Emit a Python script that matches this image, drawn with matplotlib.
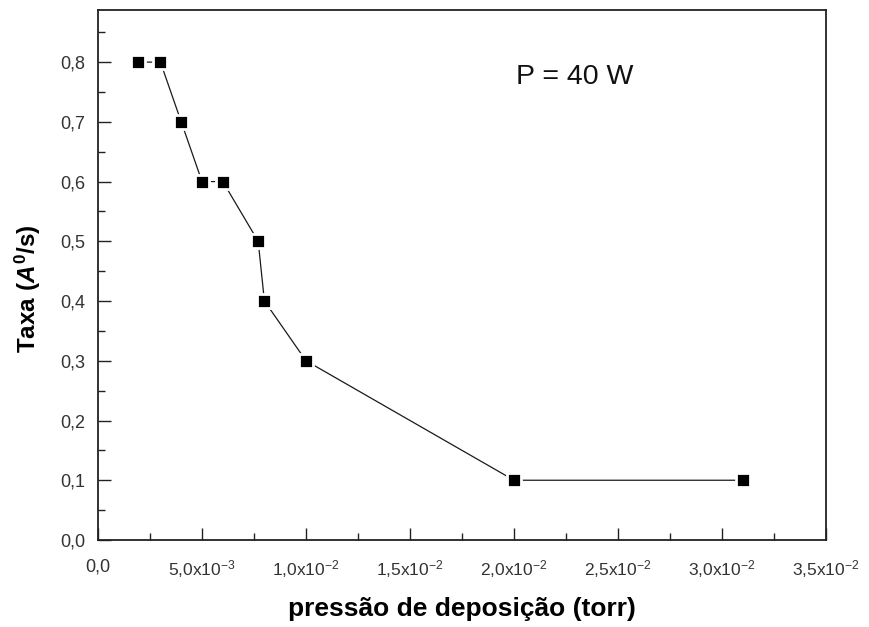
import matplotlib
matplotlib.use("Agg")
import matplotlib.pyplot as plt
from matplotlib.ticker import MultipleLocator

plt.rcParams["font.family"] = ["Liberation Sans", "DejaVu Sans"]
plt.rcParams["mathtext.fontset"] = "custom"
plt.rcParams["mathtext.rm"] = "Liberation Sans"
plt.rcParams["mathtext.it"] = "Liberation Sans:italic:bold"
plt.rcParams["mathtext.bf"] = "Liberation Sans:bold"

# deposition pressure (torr) and deposition rate (A/s) at P = 40 W
pressure = [0.0019, 0.0030, 0.0040, 0.0050, 0.0060, 0.0077, 0.0080, 0.0100, 0.0200, 0.0310]
rate = [0.8, 0.8, 0.7, 0.6, 0.6, 0.5, 0.4, 0.3, 0.1, 0.1]

x_ticks = [0.0, 0.005, 0.010, 0.015, 0.020, 0.025, 0.030, 0.035]
x_tick_labels = ["0,0", r"5,0x10$^{-3}$", r"1,0x10$^{-2}$", r"1,5x10$^{-2}$",
                 r"2,0x10$^{-2}$", r"2,5x10$^{-2}$", r"3,0x10$^{-2}$", r"3,5x10$^{-2}$"]
y_ticks = [0.0, 0.1, 0.2, 0.3, 0.4, 0.5, 0.6, 0.7, 0.8]
y_tick_labels = ["0,0", "0,1", "0,2", "0,3", "0,4", "0,5", "0,6", "0,7", "0,8"]

fig = plt.figure(figsize=(8.69, 6.27), dpi=100)
ax = fig.add_axes([0.1128, 0.1388, 0.8377, 0.846])

ax.plot(pressure, rate, color="#1a1a1a", lw=0.9, marker="s", ms=10,
        mfc="black", mec="white", mew=2.0, zorder=3)

ax.set_xlim(0.0, 0.035)
ax.set_ylim(0.0, 0.888)

ax.set_xticks(x_ticks)
ax.set_xticklabels(x_tick_labels)
ax.set_yticks(y_ticks)
ax.set_yticklabels(y_tick_labels)
ax.xaxis.set_minor_locator(MultipleLocator(0.0025))
ax.yaxis.set_minor_locator(MultipleLocator(0.05))

ax.tick_params(which="both", direction="in", top=False, right=False,
               color="#222222", width=1.0)
ax.tick_params(which="major", length=9)
ax.tick_params(which="minor", length=5)
ax.tick_params(axis="y", labelsize=13, pad=9, labelcolor="#333333")
ax.tick_params(axis="x", labelsize=12.5, pad=13, labelcolor="#333333")
for lbl in ax.get_xticklabels():
    if lbl.get_text() == "0,0":
        lbl.set_fontsize(13)

for sp in ax.spines.values():
    sp.set_linewidth(1.3)
    sp.set_color("#222222")

ax.set_xlabel("pressão de deposição (torr)", fontsize=19, fontweight="bold", labelpad=12)
ax.set_ylabel(r"Taxa ($\mathit{A}^{\mathbf{0}}$/s)", fontsize=17.5, fontweight="bold")
ax.yaxis.set_label_coords(-0.075, 0.473)

ax.text(0.0201, 0.775, "P = 40 W", fontsize=20.5, color="#111111", va="center")

fig.savefig("out.png", dpi=100)
